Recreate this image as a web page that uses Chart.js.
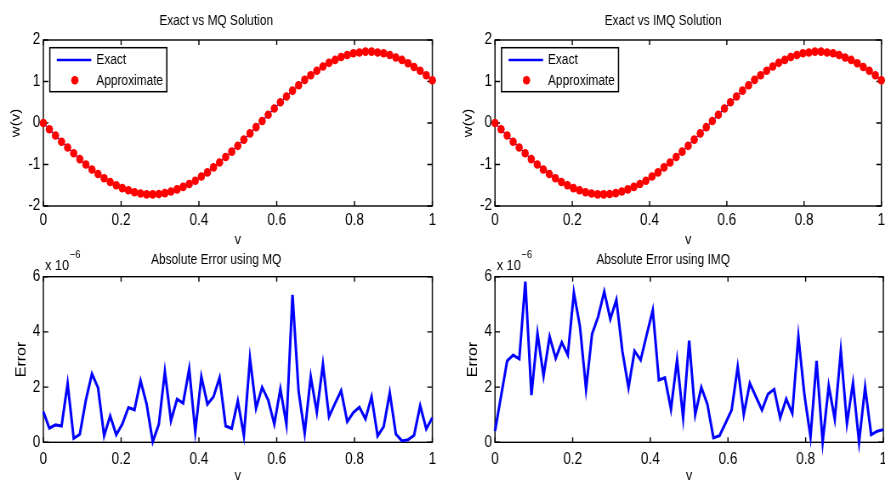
<!DOCTYPE html>
<html>
<head>
<meta charset="utf-8">
<title>Exact vs RBF solutions</title>
<script src="https://cdn.jsdelivr.net/npm/chart.js@4.4.1/dist/chart.umd.min.js"></script>
<style>
  html, body { margin: 0; padding: 0; background: #fff; overflow: hidden; }
  body { width: 885px; height: 480px; position: relative; }
  canvas { position: absolute; }
</style>
</head>
<body>
<!-- canvases are drawn 1/0.85 wider and squeezed back with CSS (narrow Helvetica look) -->
<canvas id="solMQ" width="520" height="250" style="left:0;top:0;width:442px;height:250px"></canvas>
<canvas id="solIMQ" width="520" height="250" style="left:443px;top:0;width:442px;height:250px"></canvas>
<canvas id="errMQ" width="520" height="245" style="left:0;top:245px;width:442px;height:245px"></canvas>
<canvas id="errIMQ" width="520" height="245" style="left:443px;top:245px;width:442px;height:245px"></canvas>
<script>
// collocation nodes v_i = i/64
const vNodes = [0, 0.0156, 0.0313, 0.0469, 0.0625, 0.0781, 0.0938, 0.1094, 0.125, 0.1406,
  0.1563, 0.1719, 0.1875, 0.2031, 0.2188, 0.2344, 0.25, 0.2656, 0.2813, 0.2969,
  0.3125, 0.3281, 0.3438, 0.3594, 0.375, 0.3906, 0.4063, 0.4219, 0.4375, 0.4531,
  0.4688, 0.4844, 0.5, 0.5156, 0.5313, 0.5469, 0.5625, 0.5781, 0.5938, 0.6094,
  0.625, 0.6406, 0.6563, 0.6719, 0.6875, 0.7031, 0.7188, 0.7344, 0.75, 0.7656,
  0.7813, 0.7969, 0.8125, 0.8281, 0.8438, 0.8594, 0.875, 0.8906, 0.9063, 0.9219,
  0.9375, 0.9531, 0.9688, 0.9844, 1];

// w(v) at the nodes (exact and RBF approximations agree to ~1e-6)
const wExact = [0, -0.15, -0.30, -0.45, -0.59, -0.73, -0.87, -1.00, -1.12, -1.23,
  -1.33, -1.42, -1.50, -1.57, -1.62, -1.67, -1.70, -1.72, -1.72, -1.71,
  -1.69, -1.65, -1.60, -1.54, -1.47, -1.39, -1.29, -1.19, -1.07, -0.95,
  -0.82, -0.69, -0.55, -0.40, -0.25, -0.10, 0.05, 0.20, 0.35, 0.50,
  0.64, 0.78, 0.91, 1.04, 1.15, 1.26, 1.36, 1.45, 1.52, 1.59,
  1.64, 1.68, 1.70, 1.72, 1.72, 1.70, 1.68, 1.64, 1.58, 1.52,
  1.44, 1.35, 1.26, 1.15, 1.03];
const wMQ = wExact;
const wIMQ = wExact;

// absolute errors, in units of 1e-6
const errMQ = [1.11, 0.51, 0.63, 0.59, 2.13, 0.14, 0.29, 1.53, 2.48, 1.98,
  0.24, 0.95, 0.27, 0.66, 1.26, 1.18, 2.23, 1.38, 0.02, 0.65,
  2.56, 0.78, 1.56, 1.42, 2.66, 0.39, 2.37, 1.38, 1.65, 2.34,
  0.59, 0.50, 1.50, 0.24, 3.04, 1.23, 1.99, 1.53, 0.66, 1.93,
  0.65, 5.34, 1.84, 0.33, 2.38, 1.09, 2.83, 0.93, 1.41, 1.87,
  0.75, 1.08, 1.27, 0.85, 1.65, 0.23, 0.57, 1.80, 0.30, 0.05,
  0.09, 0.25, 1.33, 0.48, 0.89];
const errIMQ = [0.41, 1.68, 2.95, 3.16, 3.02, 5.82, 1.71, 3.94, 2.40, 3.83,
  3.04, 3.62, 3.16, 5.42, 4.19, 1.93, 3.93, 4.55, 5.46, 4.47,
  5.16, 3.29, 1.98, 3.31, 2.98, 3.89, 4.79, 2.26, 2.34, 1.20,
  2.98, 0.89, 3.68, 1.01, 1.99, 1.38, 0.16, 0.24, 0.70, 1.17,
  2.73, 1.01, 2.14, 1.65, 1.17, 1.75, 1.92, 0.89, 1.57, 1.05,
  3.83, 1.71, 0.19, 2.95, 0.01, 2.05, 0.84, 3.31, 0.68, 2.15,
  0.01, 1.99, 0.27, 0.40, 0.46];

const vTicks = [0, 0.2, 0.4, 0.6, 0.8, 1];
const wTicks = [-2, -1, 0, 1, 2];
const errTicks = [0, 2, 4, 6];

const SX = 1 / 0.85; // horizontal stretch of the drawing buffer
const FONT = "'Liberation Sans', Arial, Helvetica, sans-serif";
const tickFont = { family: FONT, size: 16 };
const titleFont = { family: FONT, size: 14, weight: 'normal' };

const toPoints = (xs, ys) => xs.map((x, i) => ({ x, y: ys[i] }));

// box, inward ticks on all four sides, legend and exponent note
const matlabAxes = {
  id: 'matlabAxes',
  beforeDatasetsDraw(chart) {
    const { ctx, chartArea: a, scales: { x, y } } = chart;
    const len = 5;
    ctx.save();
    ctx.strokeStyle = '#000';
    ctx.lineWidth = 1.4;
    ctx.strokeRect(a.left, a.top, a.right - a.left, a.bottom - a.top);
    ctx.beginPath();
    x.ticks.forEach(t => {
      const px = x.getPixelForValue(t.value);
      ctx.moveTo(px, a.bottom); ctx.lineTo(px, a.bottom - len);
      ctx.moveTo(px, a.top); ctx.lineTo(px, a.top + len);
    });
    y.ticks.forEach(t => {
      const py = y.getPixelForValue(t.value);
      ctx.moveTo(a.left, py); ctx.lineTo(a.left + len * SX, py);
      ctx.moveTo(a.right, py); ctx.lineTo(a.right - len * SX, py);
    });
    ctx.stroke();
    ctx.restore();
  },
  afterDatasetsDraw(chart, args, opts) {
    const { ctx, chartArea: a } = chart;
    ctx.save();
    if (opts.legend) {
      const [line, dots] = chart.data.datasets;
      const bx = a.left + 6.5 * SX, by = a.top + 7.7, bw = 117 * SX, bh = 44;
      ctx.fillStyle = '#fff';
      ctx.fillRect(bx, by, bw, bh);
      ctx.strokeStyle = '#000';
      ctx.lineWidth = 1.5;
      ctx.strokeRect(bx, by, bw, bh);
      ctx.strokeStyle = line.borderColor;
      ctx.lineWidth = 2.5;
      ctx.beginPath();
      ctx.moveTo(bx + 7 * SX, by + 12.3);
      ctx.lineTo(bx + 41.5 * SX, by + 12.3);
      ctx.stroke();
      ctx.fillStyle = dots.pointBackgroundColor;
      ctx.beginPath();
      ctx.arc(bx + 25 * SX, by + 32.5, 4.3, 0, Math.PI * 2);
      ctx.fill();
      ctx.fillStyle = '#000';
      ctx.font = `14px ${FONT}`;
      ctx.textBaseline = 'middle';
      ctx.fillText(line.label, bx + 46.5 * SX, by + 12.8);
      ctx.fillText(dots.label, bx + 46.5 * SX, by + 33);
    }
    if (opts.exponent) {
      ctx.fillStyle = '#000';
      ctx.textBaseline = 'middle';
      ctx.font = `15px ${FONT}`;
      ctx.fillText('x 10', a.left + 1.7 * SX, a.top - 11.2);
      const w = ctx.measureText('x 10').width;
      ctx.font = `11px ${FONT}`;
      ctx.fillText(opts.exponent, a.left + 2.4 * SX + w, a.top - 21.5);
    }
    ctx.restore();
  }
};

function buildScales(cfg) {
  return {
    x: {
      type: 'linear', min: 0, max: 1,
      afterBuildTicks: s => { s.ticks = vTicks.map(value => ({ value })); },
      afterFit: s => { s.height = cfg.xHeight; s.paddingLeft = 0; s.paddingRight = 0; },
      grid: { display: false, drawTicks: false },
      border: { display: false },
      ticks: { padding: cfg.xTickPad, color: '#000', font: tickFont, maxRotation: 0,
        callback: v => `${+v.toFixed(1)}` },
      title: { display: true, text: 'v', color: '#000', font: { family: FONT, size: 15 },
        padding: { top: 0, bottom: cfg.xTitlePad } }
    },
    y: {
      min: cfg.yTicks[0], max: cfg.yTicks[cfg.yTicks.length - 1],
      afterBuildTicks: s => { s.ticks = cfg.yTicks.map(value => ({ value })); },
      afterFit: s => { s.width = cfg.yWidth * SX; s.paddingTop = 0; s.paddingBottom = 0; },
      grid: { display: false, drawTicks: false },
      border: { display: false },
      ticks: { padding: 3 * SX, color: '#000', font: tickFont, callback: v => `${v}` },
      title: { display: true, text: cfg.yTitle, color: '#000', font: { family: FONT, size: cfg.yTitleSize },
        padding: { top: cfg.yTitlePad, bottom: 0 } }
    }
  };
}

function solutionChart(id, title, approx, cfg) {
  return new Chart(document.getElementById(id), {
    type: 'line',
    data: {
      datasets: [
        // higher order is drawn first, so the markers sit on top of the line
        { label: 'Exact', data: toPoints(vNodes, wExact), borderColor: '#0000ff',
          borderWidth: 1.2, pointRadius: 0, tension: 0, clip: false, order: 1 },
        { label: 'Approximate', data: toPoints(vNodes, approx), showLine: false,
          pointRadius: 4.3, pointBackgroundColor: '#ff0000', borderColor: '#ff0000',
          pointBorderWidth: 0, clip: false, order: 0 }
      ]
    },
    options: {
      responsive: false, animation: false, events: [],
      layout: { padding: { left: 0, right: cfg.padRight * SX, top: 0, bottom: 0 } },
      scales: buildScales(Object.assign({ yTicks: wTicks, yTitle: 'w(v)', yTitleSize: 15,
        xHeight: 44, xTickPad: 5.2, xTitlePad: 1.5 }, cfg)),
      plugins: {
        legend: { display: false },
        tooltip: { enabled: false },
        title: { display: true, text: title, color: '#000', font: titleFont,
          padding: { top: 13, bottom: 10.2 } },
        matlabAxes: { legend: true }
      }
    },
    plugins: [matlabAxes]
  });
}

function errorChart(id, title, err, cfg) {
  return new Chart(document.getElementById(id), {
    type: 'line',
    data: {
      datasets: [
        { label: 'Error', data: toPoints(vNodes, err), borderColor: '#0000ff',
          borderWidth: 3, pointRadius: 0, tension: 0, clip: false }
      ]
    },
    options: {
      responsive: false, animation: false, events: [],
      layout: { padding: { left: 0, right: cfg.padRight * SX, top: 0, bottom: 0 } },
      scales: buildScales(Object.assign({ yTicks: errTicks, yTitle: 'Error', yTitleSize: 16,
        xHeight: 47.7, xTickPad: 7.8, xTitlePad: 5.5 }, cfg)),
      plugins: {
        legend: { display: false },
        tooltip: { enabled: false },
        title: { display: true, text: title, color: '#000', font: titleFont,
          padding: { top: 6.6, bottom: 8.3 } },
        matlabAxes: { exponent: '\u22126' }
      }
    },
    plugins: [matlabAxes]
  });
}

solutionChart('solMQ', 'Exact vs MQ Solution', wMQ, { yWidth: 43.3, yTitlePad: 9.8, padRight: 9.7 });
solutionChart('solIMQ', 'Exact vs IMQ Solution', wIMQ, { yWidth: 52, yTitlePad: 20.4, padRight: 1.7 });
errorChart('errMQ', 'Absolute Error using MQ', errMQ, { yWidth: 43.3, yTitlePad: 15.9, padRight: 9.7 });
errorChart('errIMQ', 'Absolute Error using IMQ', errIMQ, { yWidth: 52, yTitlePad: 25.7, padRight: 1.7 });
</script>
</body>
</html>
